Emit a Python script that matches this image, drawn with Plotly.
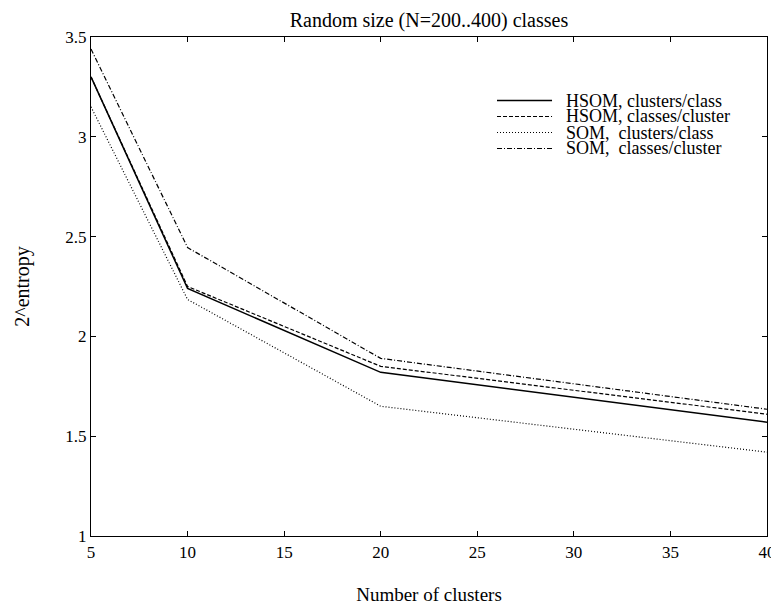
import plotly.graph_objects as go

clusters = [5, 10, 20, 40]
hsom_clusters_per_class = [3.30, 2.24, 1.82, 1.57]
hsom_classes_per_cluster = [3.30, 2.25, 1.85, 1.61]
som_clusters_per_class = [3.15, 2.185, 1.65, 1.42]
som_classes_per_cluster = [3.44, 2.445, 1.89, 1.635]

series_names = ["HSOM, clusters/class", "HSOM, classes/cluster",
                "SOM,  clusters/class", "SOM,  classes/cluster"]
series_values = [hsom_clusters_per_class, hsom_classes_per_cluster,
                 som_clusters_per_class, som_classes_per_cluster]
dashes = ["solid", "4px,2px", "1px,2px", "5px,2px,1px,2px"]
widths = [1.5, 1.2, 1.2, 1.2]

x_ticks = [5, 10, 15, 20, 25, 30, 35, 40]
y_ticks = [1, 1.5, 2, 2.5, 3, 3.5]
y_tick_labels = ["1", "1.5", "2", "2.5", "3", "3.5"]

FONT = "Liberation Serif, Times New Roman, serif"

fig = go.Figure()
for name, vals, d, w in zip(series_names, series_values, dashes, widths):
    fig.add_trace(go.Scatter(x=clusters, y=vals, mode="lines", name=name,
                             line=dict(color="black", width=w, dash=d), showlegend=False))

# legend drawn as key lines + labels inside the plot (compact row spacing like the original)
leg_x0, leg_x1, leg_tx = 0.6006, 0.682, 0.6997
leg_rows = [0.8727, 0.8407, 0.8086, 0.7766]
for name, d, w, ry in zip(series_names, dashes, widths, leg_rows):
    fig.add_shape(type="line", xref="paper", yref="paper", x0=leg_x0, x1=leg_x1, y0=ry, y1=ry,
                  line=dict(color="black", width=w, dash=d))
    fig.add_annotation(xref="paper", yref="paper", x=leg_tx, y=ry, xanchor="left", yanchor="middle",
                       text=name.replace("  ", "\u00a0\u00a0"), showarrow=False,
                       font=dict(family=FONT, size=18, color="black"))

# the page body adds an 8px offset, so the figure is sized to fit the 779x605 window
fig.update_layout(
    width=771, height=597,
    margin=dict(l=83, r=12, t=29, b=69, autoexpand=False),
    paper_bgcolor="white", plot_bgcolor="white",
    font=dict(family=FONT, size=17, color="black"),
    title=dict(text="Random size (N=200..400) classes", x=0.546, xanchor="center",
               y=0.98, yanchor="middle", font=dict(family=FONT, size=20)),
    showlegend=False,
)
fig.update_xaxes(range=[5, 40], tickvals=x_ticks, ticks="inside", ticklen=5,
                 showline=True, linecolor="black", linewidth=1.3, mirror="ticks",
                 showgrid=False, zeroline=False, tickcolor="black", automargin=False,
                 tickfont=dict(family=FONT, size=17),
                 title=dict(text="Number of clusters", standoff=27, font=dict(family=FONT, size=19)))
fig.update_yaxes(range=[1, 3.5], tickvals=y_ticks, ticktext=y_tick_labels, ticks="inside", ticklen=5,
                 showline=True, linecolor="black", linewidth=1.3, mirror="ticks",
                 showgrid=False, zeroline=False, tickcolor="black", automargin=False,
                 tickfont=dict(family=FONT, size=17),
                 title=dict(text="2^entropy", standoff=30, font=dict(family=FONT, size=20)))

fig.write_html("out.html")
